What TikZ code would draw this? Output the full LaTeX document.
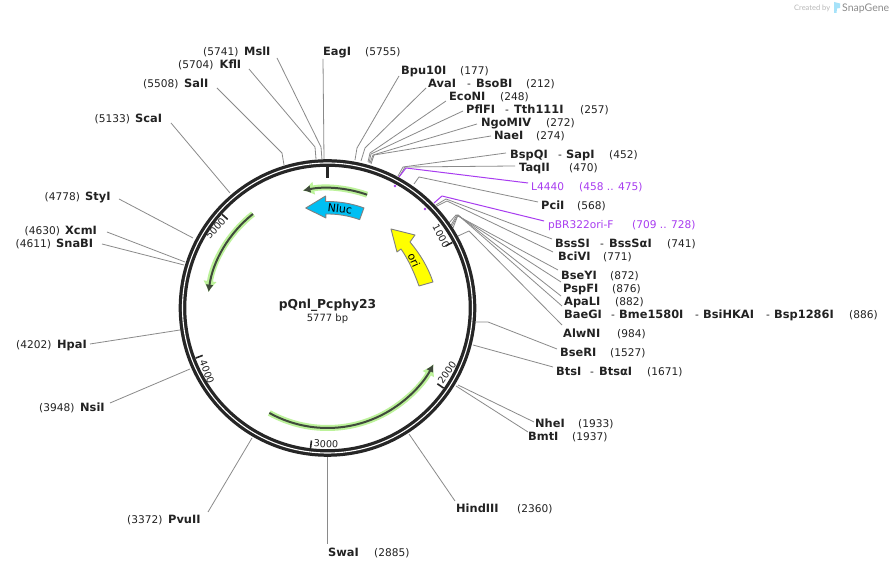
\documentclass[tikz,border=0pt]{standalone}
\usepackage{fontspec}
\setmainfont{DejaVu Sans}
\newfontfamily\wmfont{Lato}
\usetikzlibrary{arrows.meta}
\definecolor{ringc}{HTML}{262626}
\definecolor{leadc}{HTML}{8A8A8A}
\definecolor{purp}{HTML}{A83CF0}
\definecolor{txtc}{HTML}{222222}
\definecolor{halo}{HTML}{BCF29A}
\definecolor{arcd}{HTML}{404A3C}
\definecolor{nluc}{HTML}{00BFF3}
\definecolor{orif}{HTML}{FFFF00}
\tikzset{
  lab/.style={anchor=base west,inner sep=0pt,font=\fontsize{10.6}{12}\selectfont,text=txtc},
  plab/.style={lab,text=purp},
  leader/.style={draw=leadc,line width=0.8pt,line join=round},
  pleader/.style={draw=purp,line width=1pt,line join=round},
  tick/.style={draw=ringc,line width=1.6pt},
  ticktext/.style={inner sep=0pt,font=\fontsize{9.6}{12}\selectfont,text=txtc},
  feattext/.style={inner sep=0pt,font=\fontsize{11}{12}\selectfont,text=black},
  halostyle/.style={draw=halo,line width=6pt,-{Latex[length=11pt,width=14pt]}},
  arcstyle/.style={draw=arcd,line width=2pt,-{Latex[length=7.5pt,width=8pt]}},
}
\newcommand{\s}[2]{\makebox[#1pt][l]{#2}}
\newcommand{\bb}[1]{{\fontsize{11.4}{12}\selectfont\bfseries #1}}
\newcommand{\lab}[4]{\node[lab] (#1) at (#2,#3+4.8) {#4};}
\newcommand{\plab}[4]{\node[plab] (#1) at (#2,#3+4.8) {#4};}
\newcommand{\ld}[4]{\coordinate (#1-r) at (#2);\coordinate (#1-e) at (#3);\coordinate (#1-t) at (#4);
  \draw[leader] (#1-r) -- (#1-e) -- (#1-t);}
\newcommand{\lds}[3]{\coordinate (#1-r) at (#2);\coordinate (#1-t) at (#3);
  \draw[leader] (#1-r) -- (#1-t);}
\begin{document}
\begin{tikzpicture}[x=1pt,y=1pt]
\useasboundingbox (0,0) rectangle (891,569);
\fill[white] (0,0) rectangle (891,569);
\begin{scope}[shift={(0,569)},y=-1pt]
\ld{mlu}{322,160}{321,147}{277,58}
\lds{eag}{324,160}{323,59}
\ld{kfl}{316,159}{315,147}{249,69}
\ld{sal}{284,165}{282,153}{217,88}
\lds{sca}{230,193}{171,123}
\lds{sty}{193,238}{119,199}
\lds{xcm}{185,262}{107,232}
\lds{sna}{184,265}{102,244}
\lds{hpa}{180,330}{90,344}
\lds{nsi}{190,369}{110,403}
\lds{pvu}{252,438}{208,512}
\lds{swa}{327,456}{327,544}
\lds{hin}{409,434}{455,501}
\lds{bmt}{456,386}{528,432}
\lds{nhe}{458,385}{534,422}
\lds{bts}{473,345}{553,367}
\ld{bse}{476,322}{488,322}{557,349}
\ld{alw}{458,236}{469,231}{562,325}
\ld{bae}{453,228}{458,215}{562,306}
\ld{apa}{452,226}{458,215}{561,296}
\ld{psp}{451,225}{457,215}{561,282}
\ld{bsy}{449,223}{456,215}{558,270}
\ld{bci}{437,206}{447,201}{553,252}
\ld{bss}{436,205}{446,199}{552,239}
\ld{pci}{414,184}{419,177}{538,202}
\ld{taq}{399,177}{405,167}{515,166}
\ld{bsp}{398,176}{403,167}{506,153}
\ld{nae}{371,164}{374,155}{491,136}
\ld{ngo}{370,163}{373,155}{477,124}
\ld{pfl}{369,163}{371,154}{463,111}
\ld{eco}{368,162}{370,153}{446,101}
\ld{ava}{361,161}{365,148}{426,88}
\ld{bpu}{355,160}{357,148}{399,76}
\coordinate (l44-r) at (399,177);\coordinate (l44-e) at (406,168);\coordinate (l44-t) at (528,183);
\draw[pleader] (l44-r) -- (l44-e) -- (l44-t);
\coordinate (pbr-r) at (434,203);\coordinate (pbr-e) at (442,196);\coordinate (pbr-t) at (544,221);
\draw[pleader] (pbr-r) -- (pbr-e) -- (pbr-t);
\fill[purp] (395,186) circle (1.3pt);
\fill[purp] (425,209) circle (1.3pt);
\lab{mslI}{203}{51}{\s{41}{(5741)}\bb{MslI}}
\lab{kflI}{178}{64}{\s{41.5}{(5704)}\bb{KflI}}
\lab{salI}{143}{83}{\s{41}{(5508)}\bb{SalI}}
\lab{scaI}{94.5}{118}{\s{40.5}{(5133)}\bb{ScaI}}
\lab{styI}{44.5}{196}{\s{40.5}{(4778)}\bb{StyI}}
\lab{xcmI}{24.5}{230}{\s{40.5}{(4630)}\bb{XcmI}}
\lab{snaBI}{15.5}{243}{\s{40.5}{(4611)}\bb{SnaBI}}
\lab{hpaI}{16}{344}{\s{41}{(4202)}\bb{HpaI}}
\lab{nsiI}{39}{407}{\s{41}{(3948)}\bb{NsiI}}
\lab{pvuII}{127}{519}{\s{41}{(3372)}\bb{PvuII}}
\lab{swaI}{328}{552}{\s{46}{\bb{SwaI}}(2885)}
\lab{hindIII}{456}{508}{\s{61}{\bb{HindIII}}(2360)}
\lab{bmtI}{528}{436}{\s{44}{\bb{BmtI}}(1937)}
\lab{nheI}{535}{423}{\s{43}{\bb{NheI}}(1933)}
\lab{btsI}{556}{371}{\s{34}{\bb{BtsI}}\s{9}{-}\s{48}{\bb{BtsαI}}(1671)}
\lab{bseRI}{560}{352}{\s{50}{\bb{BseRI}}(1527)}
\lab{alwNI}{563}{333}{\s{54}{\bb{AlwNI}}(984)}
\lab{baeGI}{564}{314}{\s{47}{\bb{BaeGI}}\s{8}{-}\s{76}{\bb{Bme1580I}}\s{8}{-}\s{63}{\bb{BsiHKAI}}\s{8}{-}\s{75}{\bb{Bsp1286I}}(886)}
\lab{apaLI}{564}{301}{\s{51}{\bb{ApaLI}}(882)}
\lab{pspFI}{563}{288}{\s{49}{\bb{PspFI}}(876)}
\lab{bseYI}{561}{275}{\s{49}{\bb{BseYI}}(872)}
\lab{bciVI}{558}{256}{\s{45}{\bb{BciVI}}(771)}
\lab{bssSI}{555}{243}{\s{45}{\bb{BssSI}}\s{9}{-}\s{58}{\bb{BssSαI}}(741)}
\plab{pbr}{548}{224}{\s{84}{pBR322ori-F}(709 .. 728)}
\lab{pciI}{541}{205}{\s{36}{\bb{PciI}}(568)}
\plab{l4440}{531}{186}{\s{48}{L4440}(458 .. 475)}
\lab{taqII}{519}{167}{\s{50}{\bb{TaqII}}(470)}
\lab{bspQI}{510}{154}{\s{48}{\bb{BspQI}}\s{8}{-}\s{43}{\bb{SapI}}(452)}
\lab{naeI}{494}{135}{\s{42}{\bb{NaeI}}(274)}
\lab{ngoMIV}{481}{122}{\s{65}{\bb{NgoMIV}}(272)}
\lab{pflFI}{466}{109}{\s{39}{\bb{PflFI}}\s{9}{-}\s{66}{\bb{Tth111I}}(257)}
\lab{ecoNI}{449}{96}{\s{51}{\bb{EcoNI}}(248)}
\lab{avaI}{428}{83}{\s{39}{\bb{AvaI}}\s{9}{-}\s{50}{\bb{BsoBI}}(212)}
\lab{bpu}{401}{70}{\s{59}{\bb{Bpu10I}}(177)}
\lab{eagI}{323}{51}{\s{42}{\bb{EagI}}(5755)}
\node[anchor=base,inner sep=0pt,font=\fontsize{12.3}{13}\selectfont\bfseries,text=txtc] (title) at (327.5,309) {pQnl\_Pcphy23};
\node[anchor=base,inner sep=0pt,font=\fontsize{10}{12}\selectfont,text=txtc] (size) at (327.5,321.8) {5777 bp};
\node[anchor=base west,inner sep=0pt,font=\wmfont\fontsize{7.5}{9}\selectfont,text=black!28] (created) at (794,11) {Created by};
\fill[cyan!35!white] (834,2) -- (840,3.5) -- (840,8) -- (837,8.5) -- (836.5,13) -- (834,13) -- cycle;
\node[anchor=base west,inner sep=0pt,font=\wmfont\fontsize{10.5}{12}\selectfont,text=black!45] (snap) at (842,11.5) {SnapGene};
\end{scope}
\begin{scope}[shift={(327.5,261)}]
\draw[ringc,line width=7.6pt] (0,0) circle (145);
\draw[white,line width=1.1pt] (0,0) circle (145);
\draw[draw=ringc,line width=2.6pt] (90:143) -- (90:130);
\foreach \a in {27.7,-34.6,-96.9,-159.2,138.4}{
  \draw[tick] (\a:141) -- (\a:133.5);
}
\fill[nluc,draw=gray,line width=0.9pt,line join=round] (70:106.5) arc[start angle=70,end angle=91,radius=106.5] -- (91:112) -- (102.3:102.3) -- (91:90) -- (91:94) arc[start angle=91,end angle=70,radius=94] -- cycle;
\draw[halostyle] (70.7:120) arc[start angle=70.7,end angle=101.8,radius=120];
\draw[arcstyle] (70.7:120) arc[start angle=70.7,end angle=101.8,radius=120];
\draw[halostyle] (128.4:120) arc[start angle=128.4,end angle=172.4,radius=120];
\draw[arcstyle] (128.4:120) arc[start angle=128.4,end angle=172.4,radius=120];
\draw[halostyle] (241:120) arc[start angle=241,end angle=332,radius=120];
\draw[arcstyle] (241:120) arc[start angle=241,end angle=332,radius=120];
\end{scope}
\begin{scope}[shift={(0,569)},y=-1pt]
\fill[orif,draw=gray,line width=0.9pt,line join=round] (391,229) -- (415,235) -- (410,242) .. controls (420,254) and (428,267) .. (433,282) -- (419,286) .. controls (414,272) and (408,259) .. (401,249) -- (397,252) -- cycle;
\node[feattext,rotate=-6.5] (nluc) at (340,209) {Nluc};
\node[feattext,rotate=-66] (ori) at (414,260) {ori};
\node[ticktext,rotate=-62] (t1000) at (441,236) {1000};
\node[ticktext,rotate=55] (t2000) at (447,372) {2000};
\node[ticktext,rotate=-3] (t3000) at (326,444) {3000};
\node[ticktext,rotate=-69] (t4000) at (207,372) {4000};
\node[ticktext,rotate=48] (t5000) at (215.5,228.5) {5000};
\end{scope}
\end{tikzpicture}
\end{document}
